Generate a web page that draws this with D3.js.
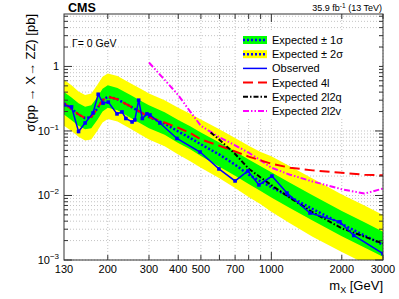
<!DOCTYPE html>
<html>
<head>
<meta charset="utf-8">
<script src="https://cdn.jsdelivr.net/npm/d3@7"></script>
<style>
body { margin: 0; background: #fff; }
text { font-family: "Liberation Sans", Arial, Helvetica, sans-serif; fill: #000; }
</style>
</head>
<body>
<div id="visual"></div>
<script>
// expected limit on sigma(pp -> X -> ZZ) [pb], combined, with bands
var expMass   = [130, 140, 150, 160, 170, 180, 190, 200, 220, 250, 280, 300, 350, 400, 450, 500, 600, 700, 800, 900, 1000, 1200, 1500, 2000, 2500, 3000];
var expMedian = [0.27, 0.22, 0.18, 0.158, 0.165, 0.22, 0.30, 0.34, 0.31, 0.24, 0.19, 0.165, 0.13, 0.098, 0.078, 0.062, 0.043, 0.030, 0.021, 0.0165, 0.0135, 0.0095, 0.0062, 0.0036, 0.0024, 0.00172];
var expMinus2 = [0.12, 0.10, 0.081, 0.071, 0.074, 0.099, 0.135, 0.153, 0.14, 0.108, 0.085, 0.074, 0.058, 0.043, 0.034, 0.027, 0.0185, 0.0131, 0.0095, 0.0073, 0.0056, 0.0037, 0.0023, 0.00133, 0.00089, 0.00064];
var expMinus1 = [0.18, 0.147, 0.12, 0.106, 0.11, 0.147, 0.20, 0.228, 0.21, 0.16, 0.127, 0.11, 0.087, 0.065, 0.052, 0.041, 0.028, 0.0203, 0.015, 0.0117, 0.0093, 0.0064, 0.0041, 0.00234, 0.00156, 0.00112];
var expPlus1  = [0.40, 0.33, 0.27, 0.237, 0.25, 0.33, 0.45, 0.51, 0.465, 0.36, 0.285, 0.25, 0.195, 0.148, 0.118, 0.095, 0.066, 0.048, 0.036, 0.0285, 0.0229, 0.0157, 0.0101, 0.00576, 0.00384, 0.00275];
var expPlus2  = [0.62, 0.51, 0.41, 0.36, 0.38, 0.51, 0.69, 0.78, 0.71, 0.55, 0.44, 0.38, 0.30, 0.23, 0.185, 0.15, 0.106, 0.078, 0.059, 0.047, 0.0405, 0.0284, 0.0183, 0.0104, 0.0070, 0.0050];

// observed limit
var obsMass  = [130, 140, 150, 160, 173, 182, 191, 201, 219, 230, 239, 254, 261, 271, 281, 294, 303, 334, 395, 496, 597, 700, 794, 885, 1006, 1166, 1463, 1963, 2250, 3000];
var obsLimit = [0.253, 0.236, 0.098, 0.133, 0.19, 0.37, 0.27, 0.28, 0.184, 0.197, 0.156, 0.138, 0.148, 0.30, 0.156, 0.184, 0.177, 0.133, 0.0765, 0.0472, 0.0258, 0.0168, 0.024, 0.0146, 0.020, 0.0109, 0.00535, 0.0039, 0.0024, 0.00126];

// single-channel expected limits
var exp4l = [0.27, 0.22, 0.18, 0.158, 0.165, 0.22, 0.30, 0.34, 0.31, 0.24, 0.19, 0.165, 0.135, 0.112, 0.093, 0.074, 0.059, 0.048, 0.040, 0.035, 0.031, 0.027, 0.0245, 0.0225, 0.021, 0.0205];
var exp2l2qMass = [550, 600, 700, 800, 900, 1000, 1200, 1500, 2000, 2500, 3000];
var exp2l2q     = [0.095, 0.073, 0.044, 0.026, 0.019, 0.0145, 0.0092, 0.0055, 0.0031, 0.0023, 0.0018];
var exp2l2vMass = [300, 350, 400, 450, 500, 600, 700, 800, 900, 1000, 1200, 1500, 2000, 2500, 3000];
var exp2l2v     = [1.15, 0.62, 0.36, 0.2, 0.12, 0.08, 0.06, 0.046, 0.035, 0.027, 0.021, 0.0165, 0.0125, 0.0107, 0.0128];

var xTickLabels = [130, 200, 300, 400, 500, 700, 1000, 2000, 3000];
var yTickLabels = [["10", "\u22123"], ["10", "\u22122"], ["10", "\u22121"], ["1", ""]];
var yTickValues = [1e-3, 1e-2, 1e-1, 1];

var width = 399, height = 299;
var margin = {top: 14, right: 16, bottom: 39, left: 64};
var w = width - margin.left - margin.right,
    h = height - margin.top - margin.bottom;

var svg = d3.select("#visual").append("svg")
  .attr("width", width)
  .attr("height", height);

var g = svg.append("g")
  .attr("transform", "translate(" + margin.left + "," + margin.top + ")");

var x = d3.scaleLog().domain([130, 3000]).range([0, w]);
var y = d3.scaleLog().domain([1e-3, 6.5]).range([h, 0]);

// grid
g.selectAll(".vgrid").data(x.ticks()).enter().append("line")
  .attr("x1", function(d) { return x(d); }).attr("x2", function(d) { return x(d); })
  .attr("y1", 0).attr("y2", h)
  .attr("stroke", "#c4c4c4").attr("stroke-dasharray", "1,2");
g.selectAll(".hgrid").data(y.ticks()).enter().append("line")
  .attr("y1", function(d) { return y(d); }).attr("y2", function(d) { return y(d); })
  .attr("x1", 0).attr("x2", w)
  .attr("stroke", "#c4c4c4").attr("stroke-dasharray", "1,2");

g.append("defs").append("clipPath").attr("id", "clip")
  .append("rect").attr("width", w).attr("height", h);

var plot = g.append("g").attr("clip-path", "url(#clip)");

function band(lo, hi) {
  return d3.area()
    .x(function(d, i) { return x(expMass[i]); })
    .y0(function(d, i) { return y(lo[i]); })
    .y1(function(d, i) { return y(hi[i]); })(expMass);
}
plot.append("path").attr("d", band(expMinus2, expPlus2)).attr("fill", "#ffff00");
plot.append("path").attr("d", band(expMinus1, expPlus1)).attr("fill", "#00ff00");

function curve(ms, vs) {
  return d3.line()
    .x(function(d, i) { return x(ms[i]); })
    .y(function(d) { return y(d); })(vs);
}

plot.append("path").attr("d", curve(expMass, expMedian))
  .attr("fill", "none").attr("stroke", "#0000ff").attr("stroke-width", 2.5)
  .attr("stroke-dasharray", "2,2");
plot.append("path").attr("d", curve(exp2l2vMass, exp2l2v))
  .attr("fill", "none").attr("stroke", "#ff00ff").attr("stroke-width", 2)
  .attr("stroke-dasharray", "6,2,1.5,2,1.5,2");
plot.append("path").attr("d", curve(expMass, exp4l))
  .attr("fill", "none").attr("stroke", "#ff0000").attr("stroke-width", 2)
  .attr("stroke-dasharray", "10,5");
plot.append("path").attr("d", curve(exp2l2qMass, exp2l2q))
  .attr("fill", "none").attr("stroke", "#000").attr("stroke-width", 2)
  .attr("stroke-dasharray", "5,2,1.5,2");
plot.append("path").attr("d", curve(obsMass, obsLimit))
  .attr("fill", "none").attr("stroke", "#0000ff").attr("stroke-width", 1.5);
plot.selectAll(".obs").data(obsLimit).enter().append("rect")
  .attr("x", function(d, i) { return x(obsMass[i]) - 1.8; })
  .attr("y", function(d) { return y(d) - 1.8; })
  .attr("width", 3.6).attr("height", 3.6)
  .attr("fill", "#0000ff");

// frame and ticks
g.append("rect").attr("width", w).attr("height", h)
  .attr("fill", "none").attr("stroke", "#333").attr("stroke-width", 1);

g.selectAll(".yt").data(y.ticks()).enter().append("path")
  .attr("d", function(d) {
    var len = yTickValues.indexOf(d) >= 0 ? 8 : 4;
    return "M0," + y(d) + "h" + len + "M" + w + "," + y(d) + "h" + (-len);
  })
  .attr("stroke", "#333");
g.selectAll(".xt").data(x.ticks()).enter().append("path")
  .attr("d", function(d) {
    var len = d == 1000 ? 8 : 5;
    return "M" + x(d) + "," + h + "v" + (-len) + "M" + x(d) + ",0v" + len;
  })
  .attr("stroke", "#333");

g.selectAll(".xl").data(xTickLabels).enter().append("text")
  .attr("x", function(d) { return x(d); })
  .attr("y", h + 13)
  .attr("text-anchor", "middle")
  .style("font-size", "11px")
  .text(function(d) { return d; });

var yl = g.selectAll(".yl").data(yTickValues).enter().append("text")
  .attr("x", -5)
  .attr("y", function(d) { return y(d) + 4; })
  .attr("text-anchor", "end")
  .style("font-size", "11px");
yl.append("tspan").text(function(d, i) { return yTickLabels[i][0]; });
yl.append("tspan").attr("dy", -5).style("font-size", "8px").text(function(d, i) { return yTickLabels[i][1]; });

// titles
svg.append("text")
  .attr("transform", "translate(35,14) rotate(-90)")
  .attr("text-anchor", "end")
  .style("font-size", "13px")
  .text("\u03c3(pp \u2192 X\u2192 ZZ) [pb]");

var xt = svg.append("text")
  .attr("x", 383).attr("y", 290)
  .attr("text-anchor", "end")
  .style("font-size", "13px");
xt.append("tspan").text("m");
xt.append("tspan").attr("dy", 3).style("font-size", "9px").text("X");
xt.append("tspan").attr("dy", -3).text(" [GeV]");

svg.append("text").attr("x", 68).attr("y", 12)
  .style("font-size", "12.5px").style("font-weight", "bold").text("CMS");

var lumi = svg.append("text").attr("x", 382).attr("y", 11)
  .attr("text-anchor", "end").style("font-size", "9px");
lumi.append("tspan").text("35.9 fb");
lumi.append("tspan").attr("dy", -3).style("font-size", "6.5px").text("-1");
lumi.append("tspan").attr("dy", 3).text(" (13 TeV)");

g.append("text").attr("x", 8).attr("y", 33)
  .style("font-size", "10.5px").text("\u0393= 0 GeV");

// legend
var legendLabels = ["Expected \u00b1 1\u03c3", "Expected \u00b1 2\u03c3", "Observed", "Expected 4l", "Expected 2l2q", "Expected 2l2v"];
svg.append("rect").attr("x", 238).attr("y", 31).attr("width", 141).attr("height", 87).attr("fill", "#fff");

var leg = svg.append("g").attr("transform", "translate(243,40)");
var rows = leg.selectAll(".row").data(legendLabels).enter().append("g")
  .attr("transform", function(d, i) { return "translate(0," + (i * 14.2) + ")"; });
rows.append("text").attr("x", 29).attr("y", 4).style("font-size", "11px").text(function(d) { return d; });

leg.append("rect").attr("x", 0).attr("y", -4).attr("width", 24).attr("height", 8).attr("fill", "#00ff00");
leg.append("rect").attr("x", 0).attr("y", 10.2).attr("width", 24).attr("height", 8).attr("fill", "#ffff00");
var legStyles = [
  {y: 0, c: "#0000ff", wd: 2.5, dash: "2,2"},
  {y: 14.2, c: "#0000ff", wd: 2.5, dash: "2,2"},
  {y: 28.4, c: "#0000ff", wd: 1.5, dash: null},
  {y: 42.6, c: "#ff0000", wd: 2, dash: "10,5"},
  {y: 56.8, c: "#000", wd: 2, dash: "5,2,1.5,2"},
  {y: 71, c: "#ff00ff", wd: 2, dash: "6,2,1.5,2,1.5,2"}
];
leg.selectAll(".ls").data(legStyles).enter().append("line")
  .attr("x1", 0).attr("x2", 24)
  .attr("y1", function(d) { return d.y; }).attr("y2", function(d) { return d.y; })
  .attr("stroke", function(d) { return d.c; })
  .attr("stroke-width", function(d) { return d.wd; })
  .attr("stroke-dasharray", function(d) { return d.dash; });
</script>
</body>
</html>
